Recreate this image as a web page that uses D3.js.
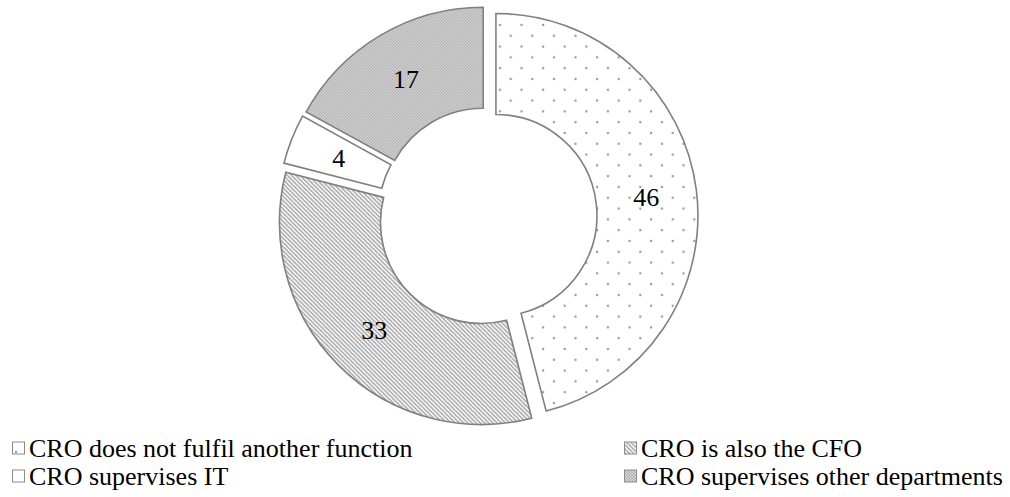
<!DOCTYPE html>
<html>
<head>
<meta charset="utf-8">
<script src="https://cdn.jsdelivr.net/npm/d3@7"></script>
<style>
  body { margin: 0; background: #fff; }
</style>
</head>
<body>
<script>
// data
const labels = ["CRO does not fulfil another function", "CRO is also the CFO", "CRO supervises IT", "CRO supervises other departments"];
const values = [46, 33, 4, 17];
const patternIds = ["dots", "hatch", "plain", "checker"];

const width = 1010, height = 497;
const serif = "Liberation Serif, DejaVu Serif, serif";
let cx = 487.5, cy = 216.5;
let outerR = 202, innerR = 101;
let explode = 8.5;

let svg = d3.select("body")
    .append("svg")
    .attr("width", width)
    .attr("height", height);

//patterns
let defs = svg.append("defs");

let dots = defs.append("pattern")
    .attr("id", "dots")
    .attr("patternUnits", "userSpaceOnUse")
    .attr("width", 21.6)
    .attr("height", 21.6);
dots.append("rect").attr("width", 21.6).attr("height", 21.6).attr("fill", "#fff");
dots.append("circle").attr("cx", 4).attr("cy", 4).attr("r", 1.2).attr("fill", "#999");
dots.append("circle").attr("cx", 14.8).attr("cy", 14.8).attr("r", 1.2).attr("fill", "#999");

let hatch = defs.append("pattern")
    .attr("id", "hatch")
    .attr("patternUnits", "userSpaceOnUse")
    .attr("width", 4.2)
    .attr("height", 4.2);
hatch.append("rect").attr("width", 4.2).attr("height", 4.2).attr("fill", "#fff");
hatch.append("path")
    .attr("d", "M-1,-1 L5.2,5.2 M-1,3.2 L1,5.2 M3.2,-1 L5.2,1")
    .attr("stroke", "#a6a6a6")
    .attr("stroke-width", 1.5);

let plain = defs.append("pattern")
    .attr("id", "plain")
    .attr("patternUnits", "userSpaceOnUse")
    .attr("width", 4)
    .attr("height", 4);
plain.append("rect").attr("width", 4).attr("height", 4).attr("fill", "#fff");

let checker = defs.append("pattern")
    .attr("id", "checker")
    .attr("patternUnits", "userSpaceOnUse")
    .attr("width", 3)
    .attr("height", 3);
checker.append("rect").attr("width", 3).attr("height", 3).attr("fill", "#dadada");
checker.append("rect").attr("width", 1.5).attr("height", 1.5).attr("fill", "#acacac");
checker.append("rect").attr("x", 1.5).attr("y", 1.5).attr("width", 1.5).attr("height", 1.5).attr("fill", "#acacac");

//donut
let pie = d3.pie().sort(null).value(d => d);
let arc = d3.arc().innerRadius(innerR).outerRadius(outerR);
let arcs = pie(values);

let g = svg.append("g")
    .attr("transform", `translate(${cx}, ${cy})`);

let slices = g.selectAll("g.slice")
    .data(arcs)
    .enter()
    .append("g")
    .attr("class", "slice")
    .attr("transform", function (d) {
        let a = (d.startAngle + d.endAngle) / 2;
        return `translate(${Math.sin(a) * explode}, ${-Math.cos(a) * explode})`;
    });

slices.append("path")
    .attr("d", arc)
    .attr("fill", (d, i) => `url(#${patternIds[i]})`)
    .attr("stroke", "#808080")
    .attr("stroke-width", 1.6);

slices.append("text")
    .attr("transform", d => `translate(${arc.centroid(d)})`)
    .attr("text-anchor", "middle")
    .attr("dy", "0.35em")
    .attr("font-family", serif)
    .attr("font-size", 26)
    .attr("fill", "#000")
    .text(d => d.data);

//legend, 2 columns
let legendX = [12, 624];
let legendY = [448, 476];

let legend = svg.append("g");
let items = legend.selectAll("g")
    .data(labels)
    .enter()
    .append("g")
    .attr("transform", (d, i) => `translate(${legendX[i % 2]}, ${legendY[Math.floor(i / 2)]})`);

items.append("rect")
    .attr("x", 0.5)
    .attr("y", -6)
    .attr("width", 12)
    .attr("height", 12)
    .attr("fill", (d, i) => `url(#${patternIds[i]})`)
    .attr("stroke", "#8c8c8c")
    .attr("stroke-width", 1);

items.append("text")
    .attr("x", 17)
    .attr("dy", "0.35em")
    .attr("font-family", serif)
    .attr("font-size", 26)
    .attr("fill", "#000")
    .text(d => d);
</script>
</body>
</html>
